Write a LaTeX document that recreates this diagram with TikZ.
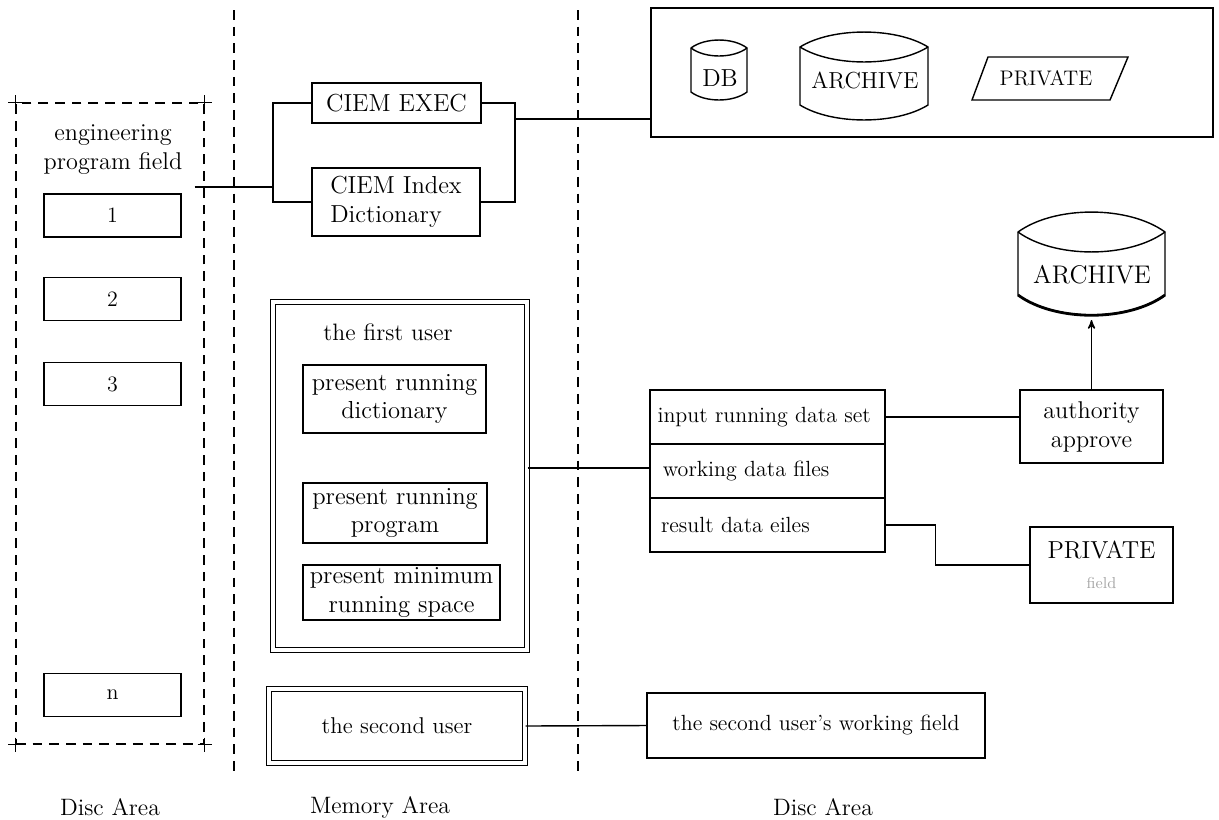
\documentclass[tikz,border=0pt]{standalone}
\usepackage{tikz}
\usetikzlibrary{calc}
\usetikzlibrary{arrows}
\tikzset{
  box/.style={draw, rectangle, inner sep=2pt, line width=.8pt},
  dbox/.style={draw, rectangle, double, double distance=2.4pt, line width=.6pt},
  zone/.style={line width=.7pt, dash pattern=on 5.5pt off 4pt},
  wire/.style={line width=.8pt},
}
% disc drum: x1, x2, top of sides, bottom of sides, bulge
\newcommand{\drum}[5]{%
  \draw[wire] (#1,#3) .. controls ({#1+0.25*(#2-#1)},{#3-1.33*#5}) and ({#2-0.25*(#2-#1)},{#3-1.33*#5}) .. (#2,#3)
    -- (#2,#4) .. controls ({#2-0.25*(#2-#1)},{#4+1.33*#5}) and ({#1+0.25*(#2-#1)},{#4+1.33*#5}) .. (#1,#4) -- cycle;
  \draw[wire] (#1,#3) .. controls ({#1+0.25*(#2-#1)},{#3+1.33*#5}) and ({#2-0.25*(#2-#1)},{#3+1.33*#5}) .. (#2,#3);
}

\begin{document}
\begin{tikzpicture}[x=0.02cm, y=-0.02cm, every node/.style={font=\fontsize{12.5}{15}\selectfont}]
\useasboundingbox (0,0) rectangle (1219,819);

% separators
\draw[zone] (234,10) -- (234,773);
\draw[zone] (578,10) -- (578,773);

% left disc area
\node[draw, zone, minimum width=3.76cm, minimum height=12.82cm] (discl) at (110,423.5) {};
\foreach \c in {north west, north east, south west, south east} {
  \draw[wire] (discl.\c) ++(-7,0) -- ++(14,0);
  \draw[wire] (discl.\c) ++(0,-7) -- ++(0,14);
}
\node[align=center, font=\fontsize{13.8}{16.5}\selectfont] (epf) at (113,150) {engineering\\program field};
\foreach \n/\y in {1/215.5, 2/299, 3/384, n/695} {
  \node[box, minimum width=2.74cm, minimum height=0.86cm] (pf\n) at (112.5,\y) {\n};
}

% memory area
\node[box, minimum width=3.38cm, minimum height=0.8cm, font=\fontsize{14}{16}\selectfont] (exec) at (396.5,103) {CIEM EXEC};
\node[box, minimum width=3.36cm, minimum height=1.36cm, align=left, font=\fontsize{14}{16.5}\selectfont] (index) at (396,202) {CIEM Index\\Dictionary};
\coordinate (lbus) at (273,187);
\coordinate (rbus) at (515,119);

\node[dbox, minimum width=5.08cm, minimum height=6.96cm] (fu) at (400,476) {};
\node[font=\fontsize{13.5}{16}\selectfont] (fut) at (388,332) {the first user};
\tikzset{inbox/.style={box, align=center, inner sep=0pt, font=\fontsize{14}{16}\selectfont}}
\node[inbox, minimum width=3.66cm, minimum height=1.36cm] (prd) at (394.5,399) {present running\\dictionary};
\node[inbox, minimum width=3.68cm, minimum height=1.2cm] (prp) at (395,513) {present running\\program};
\node[inbox, minimum width=3.94cm, minimum height=1.1cm] (pms) at (401.5,592.5) {present minimum\\running space};
\node[dbox, minimum width=5.12cm, minimum height=1.48cm, font=\fontsize{13}{15}\selectfont] (su) at (397,726) {the second user};

% right disc area
\node[box, minimum width=11.24cm, minimum height=2.58cm] (disc) at (932,72.5) {};
\drum{691}{747}{48}{92}{8}
\node[font=\fontsize{14}{16}\selectfont] (db) at (720,78) {DB};
\drum{800}{928}{47}{105}{15}
\node[font=\fontsize{13.2}{16}\selectfont] (arc) at (865,80) {ARCHIVE};
\draw[wire] (972,100) -- (988,57) -- (1128,57) -- (1110,100) -- cycle;
\node[font=\fontsize{12}{14}\selectfont] (priv) at (1046,78) {PRIVATE};

\foreach \r/\y/\t in {ids/417/{input running data set}, wdf/471/{\hspace{3pt}working data files}, rdf/525/{\hspace{2pt}result data eiles}} {
  \node[box, minimum width=4.7cm, minimum height=1.08cm, text width=4.4cm, align=left] (\r) at (767.5,\y) {\t};
}
\node[box, minimum width=2.86cm, minimum height=1.46cm, align=center, font=\fontsize{13.8}{16.5}\selectfont] (auth) at (1091.5,426.5) {authority\\approve};
\node[box, minimum width=2.86cm, minimum height=1.52cm, align=center, font=\fontsize{14}{17}\selectfont] (pvf) at (1101.5,565) {PRIVATE\\{\color{black!35}\fontsize{9}{11}\selectfont field}};
\drum{1018}{1165}{232}{295}{20}
\draw[line width=1.6pt] (1165,295) .. controls (1128,322) and (1055,322) .. (1018,295);
\node[font=\fontsize{14.5}{17}\selectfont] (arc2) at (1092,275) {ARCHIVE};
\coordinate (arcb) at (1093,320);
\node[box, minimum width=6.76cm, minimum height=1.3cm] (wf) at (816,725.5) {the second user's working field};

% connectors
\draw[wire] (discl.east |- lbus) ++(-10,0) -- (lbus);
\draw[wire] (exec.west) -| (lbus) |- (index.west);
\draw[wire] (exec.east) -| (rbus) |- (index.east);
\draw[wire] (rbus) -- (disc.west |- rbus);
\draw[wire] (fu.east |- wdf.west) ++(0,-3) -- ($(wdf.west)+(0,-3)$);
\draw[wire] (ids.east) -- (auth.west |- ids.east);
\draw[wire, ->, >=stealth'] (auth.north) -- (auth.north |- arcb);
\draw[wire] (rdf.east) -- ++(50,0) |- (pvf.west);
\draw[wire] (su.east) -- (wf.west);

% area labels
\node[font=\fontsize{13.5}{16}\selectfont] (lab1) at (110,807) {Disc Area};
\node[font=\fontsize{13.5}{16}\selectfont] (lab2) at (380,807) {Memory Area};
\node[font=\fontsize{13.5}{16}\selectfont] (lab3) at (823,807) {Disc Area};
\end{tikzpicture}
\end{document}
